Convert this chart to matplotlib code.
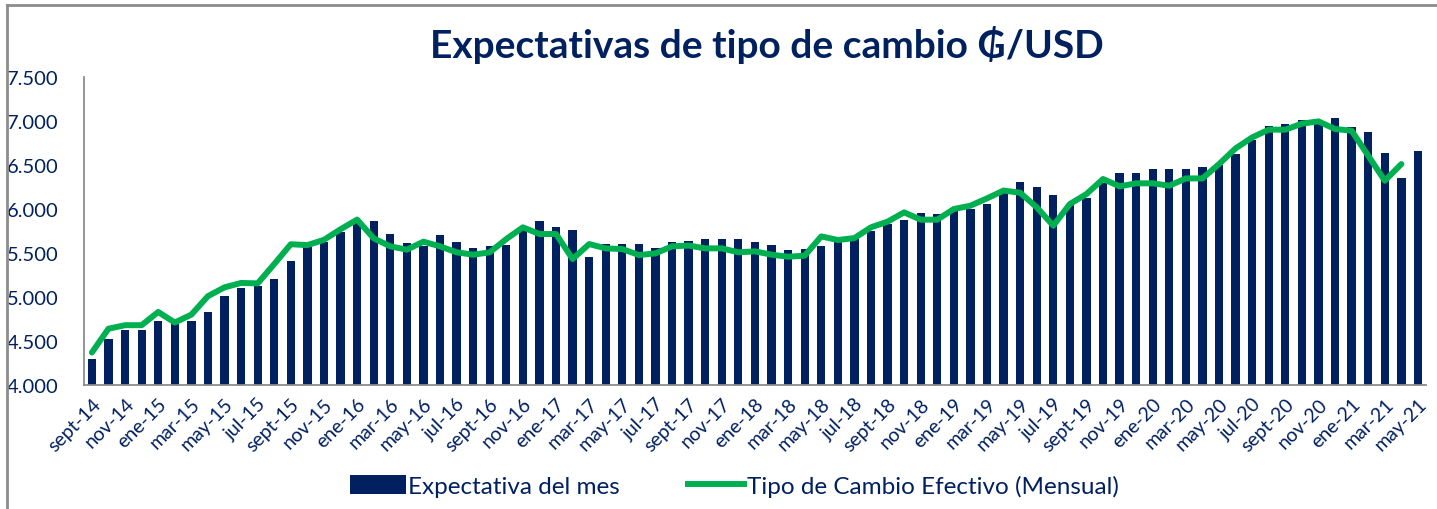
import matplotlib
matplotlib.use("Agg")
import matplotlib.pyplot as plt
from matplotlib.lines import Line2D
from matplotlib.patches import Patch
import numpy as np

plt.rcParams['font.family'] = ['Lato', 'DejaVu Sans']

# meses: sept-14 ... may-21
meses_ab = ['ene', 'feb', 'mar', 'abr', 'may', 'jun', 'jul', 'ago', 'sept', 'oct', 'nov', 'dic']
meses = []
for k in range(81):
    m = (8 + k) % 12
    a = 14 + (8 + k) // 12
    meses.append(meses_ab[m] + '-' + str(a))

expectativa = [4300, 4520, 4620, 4620, 4730, 4710, 4730, 4830, 5010, 5100,
               5130, 5200, 5410, 5570, 5620, 5740, 5870, 5860, 5720, 5610,
               5580, 5700, 5630, 5560, 5580, 5590, 5780, 5860, 5800, 5760,
               5450, 5600, 5600, 5600, 5560, 5620, 5640, 5660, 5660, 5660,
               5620, 5590, 5540, 5550, 5580, 5640, 5660, 5750, 5830, 5880,
               5950, 5940, 6000, 6000, 6060, 6200, 6310, 6250, 6160, 6050,
               6120, 6300, 6410, 6410, 6460, 6460, 6460, 6480, 6500, 6620,
               6780, 6940, 6970, 7010, 6990, 7030, 6930, 6880, 6640, 6350,
               6660]

tipo_cambio = [4370, 4640, 4680, 4680, 4830, 4710, 4800, 5010, 5110, 5160,
               5155, 5375, 5600, 5590, 5650, 5770, 5880, 5667, 5576, 5538,
               5629, 5576, 5508, 5481, 5508, 5659, 5792, 5716, 5716, 5432,
               5602, 5553, 5545, 5477, 5496, 5576, 5585, 5553, 5553, 5508,
               5519, 5481, 5458, 5470, 5689, 5648, 5670, 5792, 5856, 5962,
               5879, 5879, 6000, 6038, 6121, 6210, 6185, 6020, 5811, 6057,
               6170, 6341, 6258, 6292, 6292, 6265, 6348, 6348, 6511, 6689,
               6814, 6902, 6902, 6970, 6996, 6909, 6890, 6606, 6322, 6511]

navy = '#002060'
verde = '#00B050'

fig = plt.figure(figsize=(14.37, 5.10), dpi=100)
ax = fig.add_axes([0.0582, 0.2431, 0.9343, 0.6039])

x = np.arange(len(expectativa))
ax.bar(x, expectativa, width=0.5, color=navy, zorder=2)
ax.plot(np.arange(len(tipo_cambio)), tipo_cambio, color=verde, lw=4.3,
        solid_capstyle='round', solid_joinstyle='round', zorder=3)

ax.set_xlim(-0.5, len(expectativa) - 0.5)
ax.set_ylim(4000, 7500)
ax.set_yticks(np.arange(4000, 7501, 500))
ax.set_yticklabels([f'{v:,}'.replace(',', '.') for v in range(4000, 7501, 500)])

ax.set_xticks(x[::2])
ax.set_xticklabels(meses[::2], rotation=45, ha='right', rotation_mode='anchor')

ax.tick_params(axis='both', length=0, colors=navy)
ax.tick_params(axis='y', pad=18, labelsize=14.5)
ax.tick_params(axis='x', pad=7, labelsize=14)
for s in ['top', 'right']:
    ax.spines[s].set_visible(False)
for s in ['left', 'bottom']:
    ax.spines[s].set_color('#8c8c8c')
    ax.spines[s].set_linewidth(1.3)

fig.text(0.534, 0.912, 'Expectativas de tipo de cambio ₲/USD', ha='center', va='center',
         fontsize=28, fontweight='bold', color=navy)

handles = [Patch(facecolor=navy, label='Expectativa del mes'),
           Line2D([0], [0], color=verde, lw=4.3, label='Tipo de Cambio Efectivo (Mensual)')]
fig.legend(handles=handles, loc='center', bbox_to_anchor=(0.511, 0.045), ncol=2,
           frameon=False, fontsize=17.5, labelcolor=navy, handlelength=2.3,
           handleheight=0.8, handletextpad=0.1, columnspacing=2.8)

# marco gris arriba e izquierda
fig.add_artist(Line2D([0.005, 1.0], [0.988, 0.988], color='#8c8c8c', lw=2, transform=fig.transFigure))
fig.add_artist(Line2D([0.005, 0.005], [0.0, 0.988], color='#8c8c8c', lw=2, transform=fig.transFigure))

fig.savefig('out.png', dpi=100)
